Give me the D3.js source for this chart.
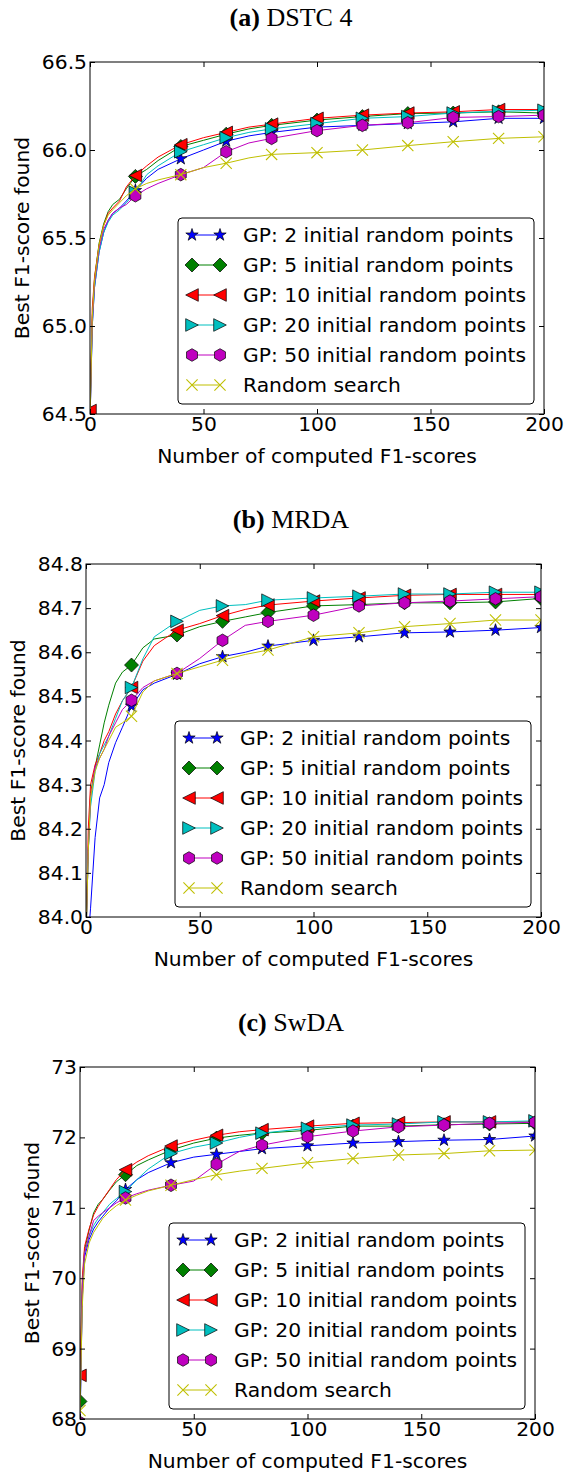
<!DOCTYPE html>
<html>
<head>
<meta charset="utf-8">
<script src="https://cdn.jsdelivr.net/npm/d3@7"></script>
<style>
  body { margin: 0; background: #fff; }
  svg { display: block; }
</style>
</head>
<body>
<svg id="fig" width="567" height="1474"></svg>
<script>
// Number of computed F1-scores at which the averaged curves are sampled
const steps = [0, 1, 2, 4, 6, 8, 10, 13, 16, 20, 25, 30, 40, 50, 60, 70, 80, 100, 120, 140, 160, 180, 200];

const seriesNames = [
  "GP: 2 initial random points",
  "GP: 5 initial random points",
  "GP: 10 initial random points",
  "GP: 20 initial random points",
  "GP: 50 initial random points",
  "Random search"
];

// (a) DSTC 4
const dstcGP2  = [64.45, 65.00, 65.22, 65.42, 65.53, 65.60, 65.64, 65.67, 65.71, 65.77, 65.84, 65.89, 65.95, 66.00, 66.05, 66.08, 66.10, 66.13, 66.14, 66.15, 66.16, 66.18, 66.18];
const dstcGP5  = [64.49, 65.05, 65.27, 65.47, 65.58, 65.65, 65.69, 65.72, 65.78, 65.85, 65.89, 65.94, 66.02, 66.055, 66.09, 66.12, 66.14, 66.17, 66.19, 66.207, 66.21, 66.217, 66.21];
const dstcGP10 = [64.52, 65.10, 65.28, 65.46, 65.57, 65.64, 65.67, 65.71, 65.79, 65.855, 65.91, 65.96, 66.03, 66.07, 66.10, 66.13, 66.147, 66.18, 66.198, 66.21, 66.217, 66.23, 66.23];
const dstcGP20 = [64.45, 65.00, 65.22, 65.42, 65.53, 65.59, 65.63, 65.66, 65.70, 65.76, 65.86, 65.91, 65.99, 66.03, 66.07, 66.10, 66.12, 66.15, 66.18, 66.19, 66.21, 66.22, 66.226];
const dstcGP50 = [64.45, 65.02, 65.24, 65.44, 65.55, 65.60, 65.64, 65.67, 65.69, 65.74, 65.78, 65.81, 65.86, 65.90, 65.99, 66.04, 66.066, 66.11, 66.14, 66.155, 66.185, 66.19, 66.198];
const dstcRand = [64.45, 65.05, 65.26, 65.46, 65.57, 65.63, 65.66, 65.70, 65.74, 65.78, 65.81, 65.83, 65.86, 65.90, 65.925, 65.955, 65.975, 65.985, 66.00, 66.025, 66.047, 66.066, 66.075];

// (b) MRDA
const mrdaGP2  = [83.90, 83.95, 84.02, 84.18, 84.27, 84.30, 84.35, 84.395, 84.43, 84.478, 84.515, 84.53, 84.55, 84.574, 84.59, 84.60, 84.614, 84.627, 84.635, 84.644, 84.646, 84.65, 84.656];
const mrdaGP5  = [83.95, 84.15, 84.28, 84.34, 84.39, 84.44, 84.48, 84.53, 84.555, 84.571, 84.61, 84.63, 84.639, 84.658, 84.67, 84.68, 84.69, 84.705, 84.708, 84.712, 84.712, 84.714, 84.722];
const mrdaGP10 = [83.95, 84.20, 84.30, 84.345, 84.37, 84.40, 84.42, 84.46, 84.49, 84.52, 84.58, 84.615, 84.65, 84.665, 84.683, 84.697, 84.707, 84.716, 84.723, 84.729, 84.731, 84.731, 84.731];
const mrdaGP20 = [83.95, 84.15, 84.25, 84.33, 84.37, 84.39, 84.41, 84.45, 84.49, 84.52, 84.585, 84.635, 84.67, 84.695, 84.705, 84.708, 84.718, 84.723, 84.727, 84.732, 84.732, 84.736, 84.736];
const mrdaGP50 = [83.95, 84.15, 84.27, 84.34, 84.36, 84.38, 84.41, 84.44, 84.47, 84.491, 84.52, 84.535, 84.552, 84.586, 84.627, 84.661, 84.67, 84.684, 84.705, 84.712, 84.716, 84.721, 84.726];
const mrdaRand = [83.95, 84.15, 84.27, 84.33, 84.36, 84.38, 84.40, 84.43, 84.44, 84.455, 84.51, 84.535, 84.552, 84.567, 84.582, 84.595, 84.605, 84.635, 84.644, 84.658, 84.665, 84.673, 84.673];

// (c) SwDA
const swdaGP2  = [67.90, 69.70, 70.30, 70.55, 70.70, 70.80, 70.88, 71.00, 71.10, 71.26, 71.40, 71.50, 71.64, 71.72, 71.76, 71.80, 71.84, 71.88, 71.92, 71.94, 71.96, 71.97, 72.02];
const swdaGP5  = [68.25, 69.90, 70.40, 70.68, 70.93, 71.05, 71.12, 71.25, 71.37, 71.47, 71.60, 71.68, 71.82, 71.92, 71.99, 72.03, 72.06, 72.10, 72.16, 72.16, 72.18, 72.19, 72.20];
const swdaGP10 = [68.62, 70.00, 70.45, 70.70, 70.90, 71.02, 71.12, 71.26, 71.40, 71.54, 71.65, 71.74, 71.877, 71.96, 72.03, 72.08, 72.11, 72.16, 72.20, 72.21, 72.22, 72.22, 72.22];
const swdaGP20 = [67.90, 69.80, 70.35, 70.60, 70.75, 70.85, 70.93, 71.05, 71.13, 71.23, 71.40, 71.55, 71.77, 71.86, 71.92, 72.00, 72.06, 72.13, 72.175, 72.19, 72.22, 72.22, 72.235];
const swdaGP50 = [67.95, 69.80, 70.35, 70.60, 70.82, 70.88, 70.93, 71.00, 71.07, 71.14, 71.20, 71.25, 71.32, 71.38, 71.62, 71.80, 71.89, 72.01, 72.09, 72.15, 72.175, 72.20, 72.215];
const swdaRand = [68.12, 69.60, 70.20, 70.50, 70.65, 70.75, 70.85, 70.95, 71.03, 71.11, 71.18, 71.24, 71.32, 71.40, 71.47, 71.52, 71.56, 71.64, 71.70, 71.75, 71.77, 71.81, 71.82];

const xTicks = [0, 50, 100, 150, 200];
const dstcYTicks = [64.5, 65.0, 65.5, 66.0, 66.5];
const mrdaYTicks = [84.0, 84.1, 84.2, 84.3, 84.4, 84.5, 84.6, 84.7, 84.8];
const swdaYTicks = [68, 69, 70, 71, 72, 73];

// Line colours and marker shapes (classic palette)
const colors = ["#0000ff", "#008000", "#ff0000", "#00bfbf", "#bf00bf", "#bfbf00"];
const shapes = ["star", "diamond", "triLeft", "triRight", "hexagon", "cross"];

function markerPath(shape) {
  if (shape === "star") {
    const R = 6.5, r = R * 0.382; let p = "";
    for (let k = 0; k < 10; k++) {
      const a = -Math.PI / 2 + k * Math.PI / 5, rr = k % 2 ? r : R;
      p += (k ? "L" : "M") + (rr * Math.cos(a)).toFixed(2) + "," + (rr * Math.sin(a)).toFixed(2);
    }
    return p + "Z";
  }
  if (shape === "diamond") { const r = 7; return `M0,${-r}L${r},0L0,${r}L${-r},0Z`; }
  if (shape === "triLeft") { const r = 6.3; return `M${-r},0L${r},${-r}L${r},${r}Z`; }
  if (shape === "triRight") { const r = 6.3; return `M${r},0L${-r},${-r}L${-r},${r}Z`; }
  if (shape === "hexagon") {
    const r = 6.3; let p = "";
    for (let k = 0; k < 6; k++) {
      const a = -Math.PI / 2 + k * Math.PI / 3;
      p += (k ? "L" : "M") + (r * Math.cos(a)).toFixed(2) + "," + (r * Math.sin(a)).toFixed(2);
    }
    return p + "Z";
  }
  const s = 5.6;
  return `M${-s},${-s}L${s},${s}M${-s},${s}L${s},${-s}`;
}

function drawMarker(g, shape, color, x, y) {
  const p = g.append("path").attr("d", markerPath(shape)).attr("transform", `translate(${x},${y})`);
  if (shape === "cross") p.attr("fill", "none").attr("stroke", color).attr("stroke-width", 1.1);
  else p.attr("fill", color).attr("stroke", "#000").attr("stroke-width", 0.7);
}

const panels = [
  { id: "a", label: "(a)", name: " DSTC 4", series: [dstcGP2, dstcGP5, dstcGP10, dstcGP20, dstcGP50, dstcRand],
    yDomain: [64.5, 66.5], yTicks: dstcYTicks, fmt: d3.format(".1f"),
    left: 90, right: 544, top: 62, bottom: 414, yLabelX: 29 },
  { id: "b", label: "(b)", name: " MRDA", series: [mrdaGP2, mrdaGP5, mrdaGP10, mrdaGP20, mrdaGP50, mrdaRand],
    yDomain: [84.0, 84.8], yTicks: mrdaYTicks, fmt: d3.format(".1f"),
    left: 86, right: 541, top: 564, bottom: 917, yLabelX: 25 },
  { id: "c", label: "(c)", name: " SwDA", series: [swdaGP2, swdaGP5, swdaGP10, swdaGP20, swdaGP50, swdaRand],
    yDomain: [68, 73], yTicks: swdaYTicks, fmt: d3.format("d"),
    left: 80, right: 535, top: 1067, bottom: 1419, yLabelX: 39 }
];

const svg = d3.select("#fig");
const sans = "'DejaVu Sans', sans-serif";
const fontPx = "20.3px";

panels.forEach(P => {
  const x = d3.scaleLinear().domain([0, 200]).range([P.left, P.right]);
  const y = d3.scaleLinear().domain(P.yDomain).range([P.bottom, P.top]);
  const g = svg.append("g");

  // title
  const t = g.append("text")
    .attr("x", 291).attr("y", P.top - 36)
    .attr("text-anchor", "middle")
    .style("font-family", "'Liberation Serif', 'Times New Roman', serif")
    .style("font-size", "26px");
  t.append("tspan").attr("font-weight", "bold").text(P.label);
  t.append("tspan").text(P.name);

  // plotted curves, clipped to the axes box
  g.append("clipPath").attr("id", "clip-" + P.id)
    .append("rect").attr("x", P.left).attr("y", P.top)
    .attr("width", P.right - P.left).attr("height", P.bottom - P.top);
  const plot = g.append("g").attr("clip-path", `url(#clip-${P.id})`);
  const line = d3.line().x((d, i) => x(steps[i])).y(d => y(d));

  P.series.forEach((vals, si) => {
    plot.append("path").datum(vals)
      .attr("d", line).attr("fill", "none")
      .attr("stroke", colors[si]).attr("stroke-width", 1);
    vals.forEach((v, i) => {
      if (steps[i] % 20 === 0) drawMarker(plot, shapes[si], colors[si], x(steps[i]), y(v));
    });
  });

  // axes with inward ticks on all four sides
  const tickStyle = sel => {
    sel.select(".domain").remove();
    sel.selectAll("line").attr("stroke", "#000").attr("stroke-width", 1);
    sel.selectAll("text").style("font-family", sans).style("font-size", fontPx).attr("fill", "#000");
  };
  g.append("g").attr("transform", `translate(0,${P.bottom})`)
    .call(d3.axisBottom(x).tickValues(xTicks).tickSizeInner(-5).tickSizeOuter(0).tickPadding(3).tickFormat(d3.format("d")))
    .call(tickStyle);
  g.append("g").attr("transform", `translate(0,${P.top})`)
    .call(d3.axisTop(x).tickValues(xTicks).tickSizeInner(-5).tickSizeOuter(0).tickFormat(""))
    .call(tickStyle);
  g.append("g").attr("transform", `translate(${P.left},0)`)
    .call(d3.axisLeft(y).tickValues(P.yTicks).tickSizeInner(-5).tickSizeOuter(0).tickPadding(3).tickFormat(P.fmt))
    .call(tickStyle);
  g.append("g").attr("transform", `translate(${P.right},0)`)
    .call(d3.axisRight(y).tickValues(P.yTicks).tickSizeInner(-5).tickSizeOuter(0).tickFormat(""))
    .call(tickStyle);

  g.append("rect").attr("x", P.left).attr("y", P.top)
    .attr("width", P.right - P.left).attr("height", P.bottom - P.top)
    .attr("fill", "none").attr("stroke", "#000").attr("stroke-width", 1);

  // axis labels
  g.append("text")
    .attr("x", (P.left + P.right) / 2).attr("y", P.bottom + 49)
    .attr("text-anchor", "middle")
    .style("font-family", sans).style("font-size", fontPx)
    .text("Number of computed F1-scores");
  g.append("text")
    .attr("transform", `translate(${P.yLabelX},${(P.top + P.bottom) / 2}) rotate(-90)`)
    .attr("text-anchor", "middle")
    .style("font-family", sans).style("font-size", fontPx)
    .text("Best F1-score found");

  // legend, lower right
  const lw = 356, lh = 186;
  const lx = P.right - 10 - lw, ly = P.bottom - 10 - lh;
  const lg = g.append("g");
  lg.append("rect").attr("x", lx).attr("y", ly).attr("width", lw).attr("height", lh)
    .attr("rx", 4).attr("fill", "#fff").attr("stroke", "#000").attr("stroke-width", 1);
  seriesNames.forEach((name, si) => {
    const cy = ly + 17 + si * 30;
    lg.append("line").attr("x1", lx + 14).attr("x2", lx + 42).attr("y1", cy).attr("y2", cy)
      .attr("stroke", colors[si]).attr("stroke-width", 1);
    drawMarker(lg, shapes[si], colors[si], lx + 14, cy);
    drawMarker(lg, shapes[si], colors[si], lx + 42, cy);
    lg.append("text").attr("x", lx + 65).attr("y", cy).attr("dy", "0.36em")
      .style("font-family", sans).style("font-size", fontPx)
      .text(name);
  });
});
</script>
</body>
</html>
